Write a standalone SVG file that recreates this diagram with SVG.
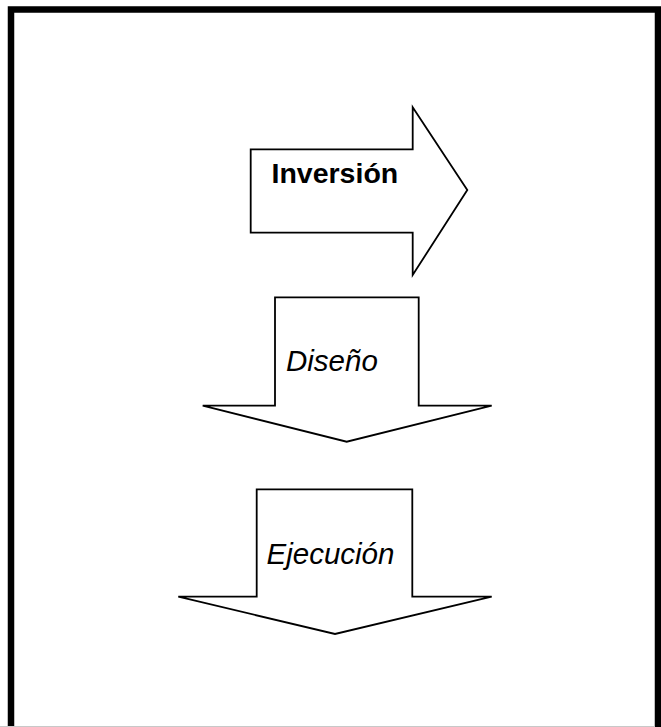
<svg xmlns="http://www.w3.org/2000/svg" width="661" height="727" viewBox="0 0 661 727">
  <style>
    .shape { fill: #ffffff; stroke: #000000; stroke-width: 1.8; stroke-linejoin: miter; }
    .lbl { font-family: "Liberation Sans", Arial, sans-serif; fill: #000000; }
    .bold { font-weight: bold; font-size: 28.5px; }
    .ital { font-style: italic; font-size: 29.5px; }
  </style>
  <rect width="661" height="727" fill="#ffffff"/>
  <!-- page frame, open at the bottom edge -->
  <path d="M11 740 V9.5 H658 V740" fill="none" stroke="#000000" stroke-width="6.5"/>
  <line x1="0" y1="726.5" x2="655" y2="726.5" stroke="#c8c8c8" stroke-width="1"/>

  <g id="inversion">
    <polygon class="shape" points="250.7,149.3 412.7,149.3 412.7,107.3 467.3,190 412.7,275 412.7,232.7 250.7,232.7"/>
    <text class="lbl bold" x="271.5" y="183">Inversión</text>
  </g>

  <g id="diseno">
    <polygon class="shape" points="275,297.3 418.7,297.3 418.7,405.7 491.7,405.7 346.7,441.7 202.7,405.7 275,405.7"/>
    <text class="lbl ital" x="286" y="371">Diseño</text>
  </g>

  <g id="ejecucion">
    <polygon class="shape" points="256.7,489.3 412.3,489.3 412.3,596.7 491.7,596.7 335,634 178.3,596.7 256.7,596.7"/>
    <text class="lbl ital" x="266.5" y="563.5">Ejecución</text>
  </g>

  <g id="connectors"/>
</svg>
